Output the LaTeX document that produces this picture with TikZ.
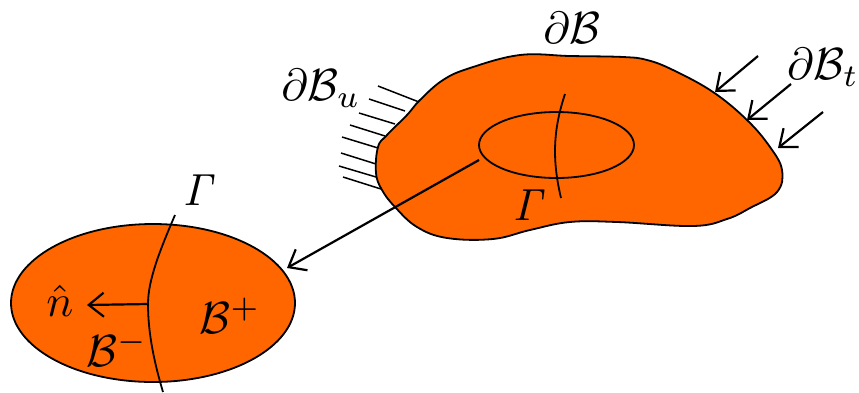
\documentclass[tikz,border=0pt]{standalone}
\usepackage{xcolor}
\definecolor{bodyFill}{HTML}{FF6600}
\usetikzlibrary{arrows.meta, positioning, calc, shapes.geometric}
\tikzset{
    region/.style={ellipse, draw, line width=1.8pt, inner sep=0pt},
    outline/.style={draw, line width=1.8pt, fill=bodyFill, line join=round},
    cutline/.style={line width=1.8pt},
    hatch/.style={line width=1.5pt},
    force/.style={-{Straight Barb[length=15pt, width=24pt, line width=2.2pt]}, line width=2.2pt},
    tag/.style={inner sep=0pt, scale=4.5},
}
\begin{document}
\begin{tikzpicture}[x=1pt, y=-1pt]
    \useasboundingbox (0,0) rectangle (859,392);
    % Body
    \draw[outline] plot[smooth cycle, tension=0.65] coordinates {
        (520,55) (470,68) (443,80) (420,100) (407,115) (387,135) (378,147)
        (376,173) (382,190) (395,207) (417,227) (447,238) (493,239) (530,230)
        (570,222) (617,222) (693,226) (727,219) (750,208) (777,192) (782,170)
        (770,147) (747,120) (713,92) (673,70) (647,60) (623,57) (570,56)};
    \node[region, minimum width=155pt, minimum height=66pt] (inner) at (556.5,145) {};
    \coordinate (innerTop) at (565,94);
    \coordinate (innerBot) at (561,198);
    \draw[cutline] (innerTop) .. controls (553,130) and (552,160) .. (innerBot);
    % Fixed part of the boundary
    \foreach \xa/\ya/\xb/\yb in {378/86/419/102, 369/99/405/111, 359/113/395/124, 350/125/385/136,
                                 342/137/378/148, 341/153/376/164, 339/166/376/177, 343/177/381/189}
        \draw[hatch] (\xa,\ya) -- (\xb,\yb);
    % Loaded part of the boundary
    \coordinate (loadA) at (758,56);
    \coordinate (tipA) at (715,92);
    \coordinate (loadB) at (791,84);
    \coordinate (tipB) at (747,120);
    \coordinate (loadC) at (823,112);
    \coordinate (tipC) at (778,148);
    \draw[force] (loadA) -- (tipA);
    \draw[force] (loadB) -- (tipB);
    \draw[force] (loadC) -- (tipC);
    % Enlarged part
    \node[region, fill=bodyFill, minimum width=284pt, minimum height=158pt] (part) at (153,303) {};
    \coordinate (cutTop) at (175,215);
    \coordinate (cutMid) at (148,304);
    \coordinate (cutBot) at (163,392);
    \draw[cutline] (cutTop) .. controls (160,250) and (148,280) .. (cutMid)
                   .. controls (148,335) and (155,365) .. (cutBot);
    \coordinate (normalTip) at (87,305);
    \draw[force] (cutMid) -- (normalTip);
    \coordinate (zoomFrom) at (479,160);
    \coordinate (zoomTo) at (287,268);
    \draw[force] (zoomFrom) -- (zoomTo);
    % Labels
    \node[tag] (bdry) at (572,28) {$\partial\mathcal{B}$};
    \node[tag] (bdryU) at (321,88) {$\partial\mathcal{B}_u$};
    \node[tag] (bdryT) at (823,67) {$\partial\mathcal{B}_t$};
    \node[tag] (gammaIn) at (530,205) {$\mathit{\Gamma}$};
    \node[tag] (gammaOut) at (200,190) {$\mathit{\Gamma}$};
    \node[tag] (normal) at (60,301) {$\hat{n}$};
    \node[tag] (plus) at (230,316) {$\mathcal{B}^+$};
    \node[tag] (minus) at (117,349) {$\mathcal{B}^-$};
\end{tikzpicture}
\end{document}
